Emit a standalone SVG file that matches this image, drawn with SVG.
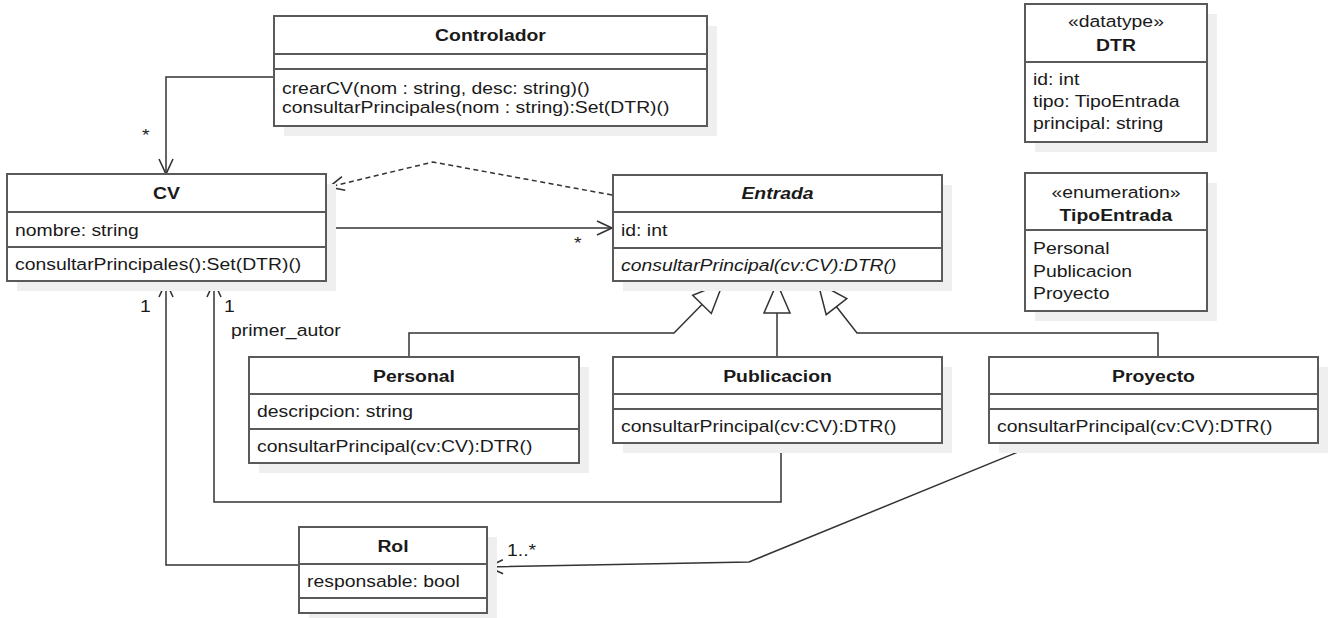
<svg xmlns="http://www.w3.org/2000/svg" width="1332" height="618" viewBox="0 0 1332 618">
<style>
  .box { fill: #ffffff; stroke: #5a5a5a; stroke-width: 2; }
  .shadow { fill: #efefef; stroke: none; }
  .sep { stroke: #5a5a5a; stroke-width: 2; fill: none; }
  .t { font-family: "Liberation Sans", Arial, sans-serif; font-size: 17px; fill: #1a1a1a;
       transform-box: fill-box; transform-origin: left center; transform: scaleX(1.14); }
  .c { text-anchor: middle; transform-origin: center; }
  .b { font-weight: bold; }
  .i { font-style: italic; }
  .ln { fill: none; stroke: #333333; stroke-width: 1.5; }
  .dash { stroke-dasharray: 5 3.5; }
  .tri { fill: #ffffff; stroke: #333333; stroke-width: 1.5; stroke-linejoin: miter; }
</style>
<defs>
  <marker id="open" markerUnits="userSpaceOnUse" viewBox="-18 -10 20 20" refX="0" refY="0" markerWidth="20" markerHeight="20" orient="auto" overflow="visible">
    <path d="M-15,-7 L0,0 L-15,7" fill="none" stroke="#333333" stroke-width="1.6"/>
  </marker>
</defs>

<g id="connectors">
  <path class="ln" d="M274 77 H166 V174" marker-end="url(#open)"/>
  <path class="ln dash" d="M612 195 L433 162 L329 187" marker-end="url(#open)"/>
  <path class="ln" d="M326 228 H612" marker-end="url(#open)"/>
  <path class="ln" d="M409 357 V333 H674 L702 304.4"/>
  <polygon class="tri" points="723,283 711.3,313.5 692.7,295.3"/>
  <path class="ln" d="M777 357 V313"/>
  <polygon class="tri" points="777,283 790,313 764,313"/>
  <path class="ln" d="M1158 357 V333 H857 L836.5 306.7"/>
  <polygon class="tri" points="818,283 846.8,298.7 826.2,314.7"/>
  <path class="ln" d="M781 443 V502 H214 V282" marker-end="url(#open)"/>
  <path class="ln" d="M299 565 H166 V282" marker-end="url(#open)"/>
  <path class="ln" d="M1040 443 L749 562 L488 567" marker-end="url(#open)"/>
  <text class="t" x="142" y="141">*</text>
  <text class="t" x="574" y="249">*</text>
  <text class="t" x="140" y="312">1</text>
  <text class="t" x="224" y="312">1</text>
  <text class="t" x="231" y="336">primer_autor</text>
  <text class="t" x="507" y="556">1..*</text>
</g>

<g id="controlador">
  <rect class="shadow" x="284" y="26" width="433" height="110"/>
  <rect class="box" x="274" y="16" width="433" height="110"/>
  <path class="sep" d="M274 54 H707 M274 69 H707"/>
  <text class="t c b" x="490.5" y="41">Controlador</text>
  <text class="t" x="282" y="94">crearCV(nom : string, desc: string)()</text>
  <text class="t" x="282" y="113">consultarPrincipales(nom : string):Set(DTR)()</text>
</g>

<g id="cv">
  <rect class="shadow" x="17" y="184" width="319" height="107"/>
  <rect class="box" x="7" y="174" width="319" height="107"/>
  <path class="sep" d="M7 212 H326 M7 247 H326"/>
  <text class="t c b" x="166.5" y="199">CV</text>
  <text class="t" x="15" y="236">nombre: string</text>
  <text class="t" x="15" y="270">consultarPrincipales():Set(DTR)()</text>
</g>

<g id="entrada">
  <rect class="shadow" x="623" y="185" width="329" height="106"/>
  <rect class="box" x="613" y="175" width="329" height="106"/>
  <path class="sep" d="M613 212 H942 M613 248 H942"/>
  <text class="t c b i" x="777.5" y="199">Entrada</text>
  <text class="t" x="621" y="236">id: int</text>
  <text class="t i" x="621" y="271">consultarPrincipal(cv:CV):DTR()</text>
</g>

<g id="dtr">
  <rect class="shadow" x="1035" y="14" width="182" height="138"/>
  <rect class="box" x="1025" y="4" width="182" height="138"/>
  <path class="sep" d="M1025 62 H1207"/>
  <text class="t c" x="1116" y="27">«datatype»</text>
  <text class="t c b" x="1116" y="51">DTR</text>
  <text class="t" x="1033" y="85">id: int</text>
  <text class="t" x="1033" y="107">tipo: TipoEntrada</text>
  <text class="t" x="1033" y="129">principal: string</text>
</g>

<g id="tipoentrada">
  <rect class="shadow" x="1035" y="183" width="182" height="138"/>
  <rect class="box" x="1025" y="173" width="182" height="138"/>
  <path class="sep" d="M1025 230 H1207"/>
  <text class="t c" x="1116" y="198">«enumeration»</text>
  <text class="t c b" x="1116" y="221">TipoEntrada</text>
  <text class="t" x="1033" y="254">Personal</text>
  <text class="t" x="1033" y="277">Publicacion</text>
  <text class="t" x="1033" y="299">Proyecto</text>
</g>

<g id="personal">
  <rect class="shadow" x="259" y="367" width="330" height="106"/>
  <rect class="box" x="249" y="357" width="330" height="106"/>
  <path class="sep" d="M249 394 H579 M249 429 H579"/>
  <text class="t c b" x="414" y="382">Personal</text>
  <text class="t" x="257" y="417">descripcion: string</text>
  <text class="t" x="257" y="452">consultarPrincipal(cv:CV):DTR()</text>
</g>

<g id="publicacion">
  <rect class="shadow" x="623" y="367" width="329" height="86"/>
  <rect class="box" x="613" y="357" width="329" height="86"/>
  <path class="sep" d="M613 394 H942 M613 409 H942"/>
  <text class="t c b" x="777.5" y="382">Publicacion</text>
  <text class="t" x="621" y="432">consultarPrincipal(cv:CV):DTR()</text>
</g>

<g id="proyecto">
  <rect class="shadow" x="999" y="367" width="329" height="86"/>
  <rect class="box" x="989" y="357" width="329" height="86"/>
  <path class="sep" d="M989 394 H1318 M989 409 H1318"/>
  <text class="t c b" x="1153.5" y="382">Proyecto</text>
  <text class="t" x="997" y="432">consultarPrincipal(cv:CV):DTR()</text>
</g>

<g id="rol">
  <rect class="shadow" x="309" y="537" width="188" height="81"/>
  <rect class="box" x="299" y="527" width="188" height="86"/>
  <path class="sep" d="M299 564 H487 M299 598 H487"/>
  <text class="t c b" x="393" y="552">Rol</text>
  <text class="t" x="307" y="587">responsable: bool</text>
</g>
</svg>
